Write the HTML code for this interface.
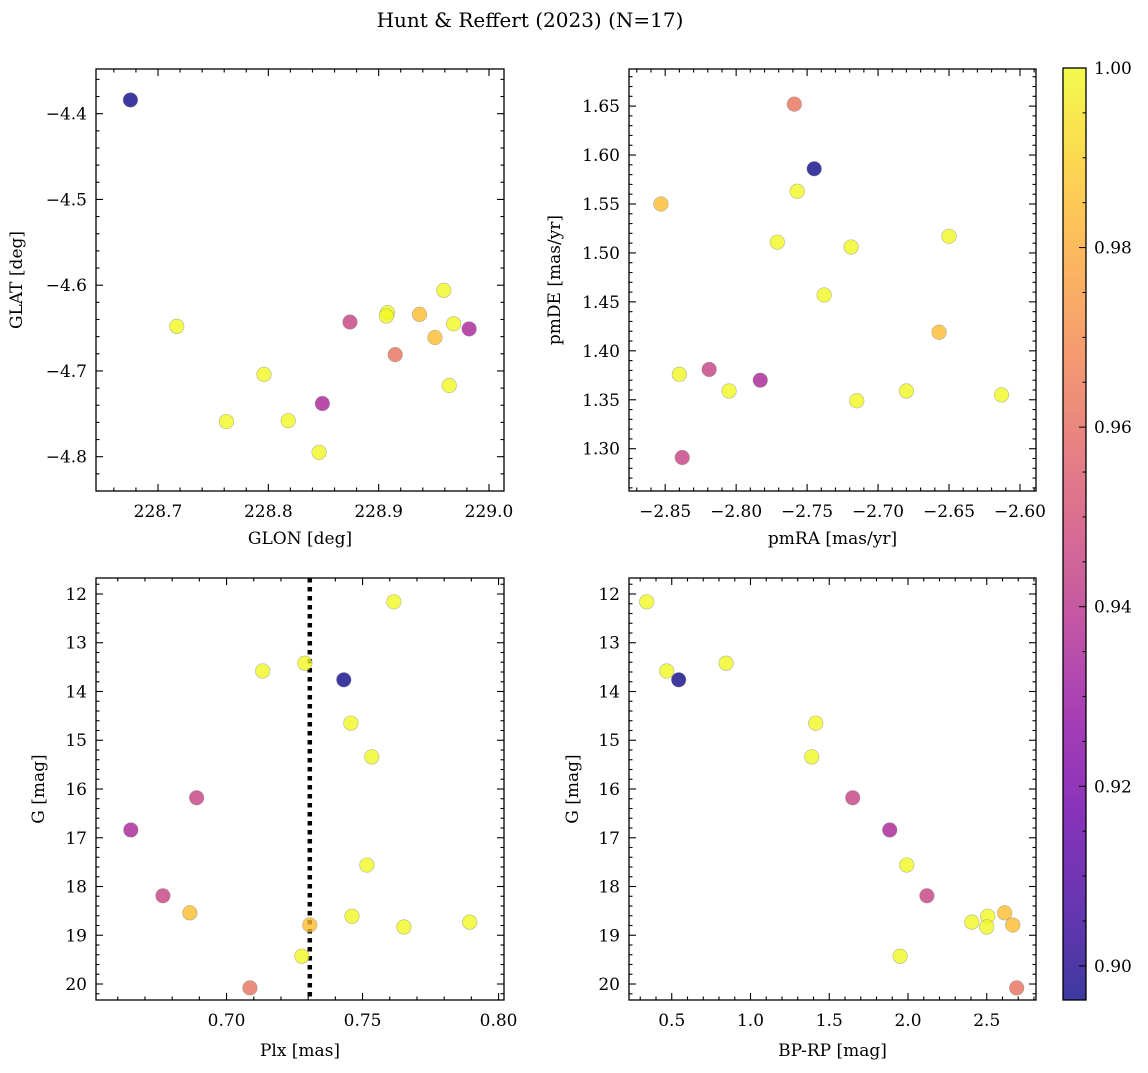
<!DOCTYPE html>
<html><head><meta charset="utf-8"><style>
body{margin:0;background:#fff}
svg text{font-family:"DejaVu Serif","Liberation Serif",serif;fill:#000}
</style></head><body>
<svg id="fig" width="1148" height="1068" viewBox="0 0 1148 1068" xmlns="http://www.w3.org/2000/svg">
<text x="530" y="27" font-size="20" text-anchor="middle">Hunt &amp; Reffert (2023) (N=17)</text>
</svg>
<script>
// Panel 1: GLON vs GLAT
const glonA=[228.675,228.717,228.762,228.796,228.818,228.849,228.846,228.874,228.908,228.907,228.915,228.937,228.951,228.959,228.968,228.964,228.982];
const glatA=[-4.384,-4.648,-4.759,-4.704,-4.758,-4.738,-4.795,-4.643,-4.632,-4.636,-4.681,-4.634,-4.661,-4.606,-4.645,-4.717,-4.651];
const colA=[0.896,1,1,1,1,0.935,1,0.945,1,1,0.962,0.985,0.985,1,1,1,0.935];
// Panel 2: pmRA vs pmDE
const pmraB=[-2.759,-2.745,-2.757,-2.853,-2.771,-2.719,-2.650,-2.738,-2.657,-2.840,-2.819,-2.805,-2.783,-2.715,-2.680,-2.613,-2.838];
const pmdeB=[1.652,1.586,1.563,1.550,1.511,1.506,1.517,1.457,1.419,1.376,1.381,1.359,1.370,1.349,1.359,1.355,1.291];
const colB=[0.962,0.896,1,0.985,1,1,1,1,0.985,1,0.945,1,0.935,1,1,1,0.945];
// Panel 3: Plx vs G
const plxC=[0.7615,0.7133,0.7288,0.7431,0.7457,0.7534,0.6648,0.6890,0.7516,0.6766,0.6865,0.7461,0.7306,0.7652,0.7894,0.7277,0.7086];
const gC=[12.16,13.58,13.42,13.76,14.65,15.34,16.84,16.18,17.56,18.19,18.54,18.61,18.79,18.83,18.73,19.43,20.08];
const colC=[1,1,1,0.896,1,1,0.935,0.945,1,0.945,0.985,1,0.985,1,1,1,0.962];
const plxLine=[0.7306];
// Panel 4: BP-RP vs G
const bprpD=[0.341,0.468,0.544,0.845,1.414,1.389,1.649,1.884,1.992,2.12,2.405,2.506,2.5,2.614,2.665,1.95,2.69];
const gD=[12.16,13.58,13.76,13.42,14.65,15.34,16.18,16.84,17.56,18.19,18.73,18.61,18.83,18.54,18.79,19.43,20.08];
const colD=[1,1,0.896,1,1,1,0.945,0.935,1,0.945,1,1,1,0.985,0.985,1,0.962];
const cbTicks=[0.90,0.92,0.94,0.96,0.98,1.00];

const NS="http://www.w3.org/2000/svg";
const svg=document.getElementById('fig');
function el(t,a,p){const e=document.createElementNS(NS,t);for(const k in a)e.setAttribute(k,a[k]);(p||svg).appendChild(e);return e;}
const stops=["#0d0887","#41049d","#6a00a8","#8f0da4","#b12a90","#cc4778","#e16462","#f2844b","#fca636","#fcce25","#f0f921"];
const cmin=0.8962,cmax=1.0;
function hx(s){return [1,3,5].map(i=>parseInt(s.substr(i,2),16));}
function cmap(v){let t=(v-cmin)/(cmax-cmin);t=Math.max(0,Math.min(1,t));const f=t*10,i=Math.min(9,Math.floor(f)),u=f-i;const a=hx(stops[i]),b=hx(stops[i+1]);const c=a.map((x,k)=>Math.round(x+(b[k]-x)*u));return `rgb(${c.join(',')})`;}
function fmt(v,d){let s=v.toFixed(d);return s.replace('-','\u2212');}

function panel(o){
  const g=el('g',{});
  
  
  const X=v=>o.x0+(v-o.xmin)/(o.xmax-o.xmin)*(o.x1-o.x0);
  const Y=o.yinv?v=>o.y0+(v-o.ymin)/(o.ymax-o.ymin)*(o.y1-o.y0):v=>o.y1-(v-o.ymin)/(o.ymax-o.ymin)*(o.y1-o.y0);
  const tg=el('g',{stroke:'#000','stroke-width':1.1},g);
  for(let k=Math.ceil(o.xmin/o.xst*5-1e-6);k*o.xst/5<=o.xmax+1e-9;k++){
    const v=k*o.xst/5,px=X(v),maj=k%5===0,L=maj?7:3.5;
    el('line',{x1:px,x2:px,y1:o.y1,y2:o.y1-L},tg);el('line',{x1:px,x2:px,y1:o.y0,y2:o.y0+L},tg);
    if(maj){const t=el('text',{x:px,y:o.y1+26,'font-size':17,'text-anchor':'middle'},g);t.textContent=fmt(v,o.xd);
      }
  }
  for(let k=Math.ceil(o.ymin/o.yst*5-1e-6);k*o.yst/5<=o.ymax+1e-9;k++){
    const v=k*o.yst/5,py=Y(v),maj=k%5===0,L=maj?7:3.5;
    el('line',{x1:o.x0,x2:o.x0+L,y1:py,y2:py},tg);el('line',{x1:o.x1,x2:o.x1-L,y1:py,y2:py},tg);
    if(maj){const t=el('text',{x:o.x0-9,y:py+6,'font-size':17,'text-anchor':'end'},g);t.textContent=fmt(v,o.yd);
      }
  }
  if(o.vline){const px=X(o.vline[0]);const ln=el('line',{x1:px,x2:px,y1:o.y0,y2:o.y1,stroke:'#000','stroke-width':4.5,'stroke-dasharray':'4.5 4.5'},g);
    }
  o.xs.forEach((v,i)=>{const c=el('circle',{cx:X(v),cy:Y(o.ys[i]),r:7.3,fill:cmap(o.cs[i]),'fill-opacity':0.8,stroke:'#888','stroke-opacity':0.6,'stroke-width':0.6},g);
    });
  const fr=el('rect',{x:o.x0,y:o.y0,width:o.x1-o.x0,height:o.y1-o.y0,fill:'none',stroke:'#000','stroke-width':1.3},g);
  
  const xl=el('text',{x:(o.x0+o.x1)/2,y:o.xly,'font-size':17,'text-anchor':'middle'},g);xl.textContent=o.xl;
  
  const yc=(o.y0+o.y1)/2;const yl=el('text',{x:o.ylx,y:yc,'font-size':17,'text-anchor':'middle',transform:`rotate(-90 ${o.ylx} ${yc})`},g);yl.textContent=o.yl;
  
}
panel({name:'glon-glat-panel',x0:96,x1:504,y0:69,y1:491,xmin:228.6438,xmax:229.0136,ymin:-4.8400,ymax:-4.3479,xst:0.1,yst:0.1,xd:1,yd:1,xs:glonA,ys:glatA,cs:colA,xl:'GLON [deg]',yl:'GLAT [deg]',xly:544,ylx:22});
panel({name:'pm-panel',x0:629,x1:1036,y0:69,y1:491,xmin:-2.8755,xmax:-2.5887,ymin:1.2568,ymax:1.6879,xst:0.05,yst:0.05,xd:2,yd:2,xs:pmraB,ys:pmdeB,cs:colB,xl:'pmRA [mas/yr]',yl:'pmDE [mas/yr]',xly:544,ylx:560});
panel({name:'plx-g-panel',x0:96,x1:504,y0:578,y1:1000,xmin:0.652,xmax:0.802,yinv:true,ymin:11.672,ymax:20.328,xst:0.05,yst:1,xd:2,yd:0,xs:plxC,ys:gC,cs:colC,vline:plxLine,xl:'Plx [mas]',yl:'G [mag]',xly:1056,ylx:44});
panel({name:'cmd-panel',x0:629,x1:1036,y0:578,y1:1000,xmin:0.2286,xmax:2.8127,yinv:true,ymin:11.672,ymax:20.328,xst:0.5,yst:1,xd:1,yd:0,xs:bprpD,ys:gD,cs:colD,xl:'BP-RP [mag]',yl:'G [mag]',xly:1056,ylx:578});

const cb=el('g',{});


const defs=el('defs',{},cb);const lg=el('linearGradient',{id:'pl',x1:0,y1:1,x2:0,y2:0},defs);
stops.forEach((s,i)=>el('stop',{offset:i/10,'stop-color':s,'stop-opacity':0.8},lg));
const cbx0=1063,cbx1=1086,cby0=68,cby1=1000;
el('rect',{x:cbx0,y:cby0,width:cbx1-cbx0,height:cby1-cby0,fill:'url(#pl)'},cb);
const CY=v=>cby1-(v-cmin)/(cmax-cmin)*(cby1-cby0);
for(let k=Math.ceil(cmin/0.005-1e-6);k*0.005<=cmax+1e-9;k++){const v=k*0.005,py=CY(v),maj=k%4===0;
  el('line',{x1:cbx1,x2:cbx1-(maj?7:3.5),y1:py,y2:py,stroke:'#000','stroke-width':1},cb);}
cbTicks.forEach(v=>{const t=el('text',{x:1094,y:CY(v)+6,'font-size':17},cb);t.textContent=v.toFixed(2);
  });
el('rect',{x:cbx0,y:cby0,width:cbx1-cbx0,height:cby1-cby0,fill:'none',stroke:'#000','stroke-width':1.3},cb);
</script>
</body></html>
